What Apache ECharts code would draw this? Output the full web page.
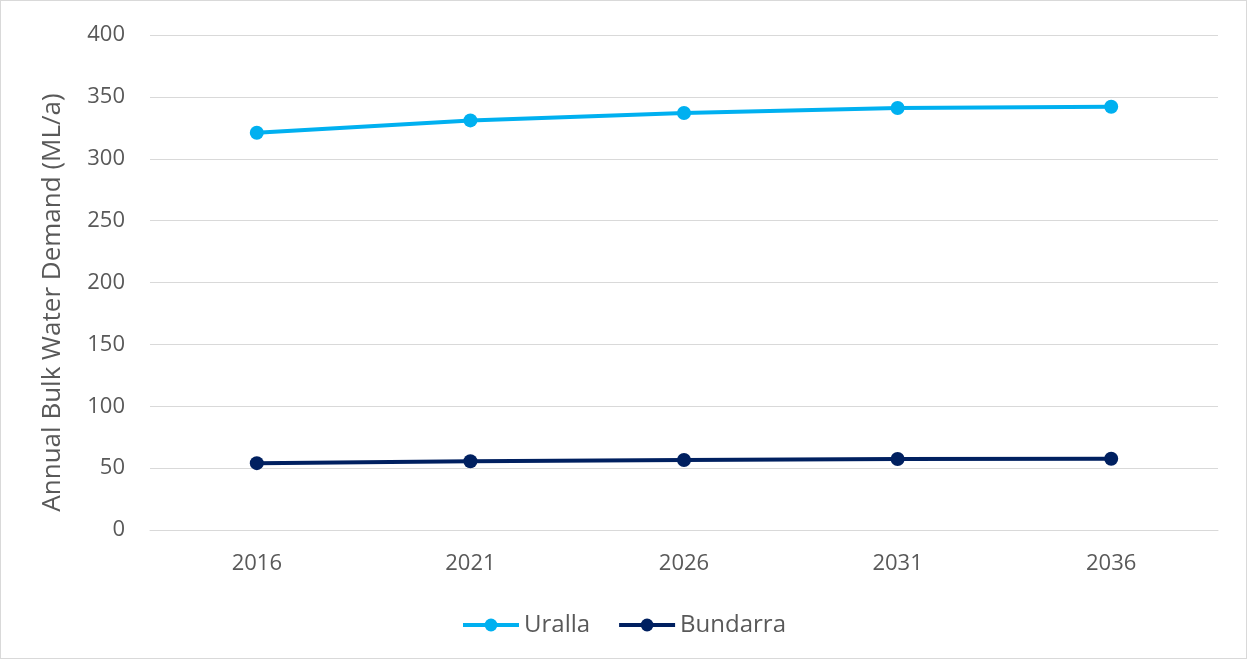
<!DOCTYPE html>
<html>
<head>
<meta charset="utf-8">
<script src="https://cdn.jsdelivr.net/npm/echarts@6/dist/echarts.min.js"></script>
<style>
  html, body { margin: 0; padding: 0; background: #fff; }
  #chart { width: 1245px; height: 657px; border: 1px solid #d9d9d9; }
</style>
</head>
<body>
<div id="chart"></div>
<script>
const years = ['2016', '2021', '2026', '2031', '2036']
const uralla = [321, 331, 337, 341, 342]
const bundarra = [54, 55.5, 56.6, 57.4, 57.6]

const textColor = '#595959'
const font = 'Open Sans, Liberation Sans, sans-serif'

const chart = echarts.init(document.getElementById('chart'))

const makeSeries = (name, data, color) => ({
  name,
  type: 'line',
  data,
  symbol: 'circle',
  symbolSize: 14,
  lineStyle: { width: 4, color },
  itemStyle: { color },
  animation: false
})

chart.setOption({
  textStyle: { fontFamily: font },
  grid: { left: 149, right: 28, top: 34, bottom: 128 },
  legend: {
    bottom: 16,
    left: 'center',
    itemWidth: 56,
    itemHeight: 16,
    itemGap: 27,
    lineStyle: { width: 4 },
    textStyle: { color: textColor, fontSize: 24, fontFamily: font },
    data: ['Uralla', 'Bundarra']
  },
  xAxis: {
    type: 'category',
    data: years,
    boundaryGap: true,
    axisLine: { lineStyle: { color: '#d9d9d9', width: 1 } },
    axisTick: { show: false },
    axisLabel: { color: textColor, fontSize: 22, margin: 23, fontFamily: font }
  },
  yAxis: {
    type: 'value',
    min: 0,
    max: 400,
    interval: 50,
    name: 'Annual Bulk Water Demand (ML/a)',
    nameLocation: 'middle',
    nameGap: 84,
    nameTextStyle: { color: textColor, fontSize: 26, fontFamily: font, padding: [0, 40, 0, 0] },
    axisLine: { show: false },
    axisTick: { show: false },
    splitLine: { lineStyle: { color: '#d9d9d9', width: 1 } },
    axisLabel: { color: textColor, fontSize: 22, margin: 25, fontFamily: font }
  },
  series: [
    makeSeries('Uralla', uralla, '#00b0f0'),
    makeSeries('Bundarra', bundarra, '#002060')
  ]
})
</script>
</body>
</html>
